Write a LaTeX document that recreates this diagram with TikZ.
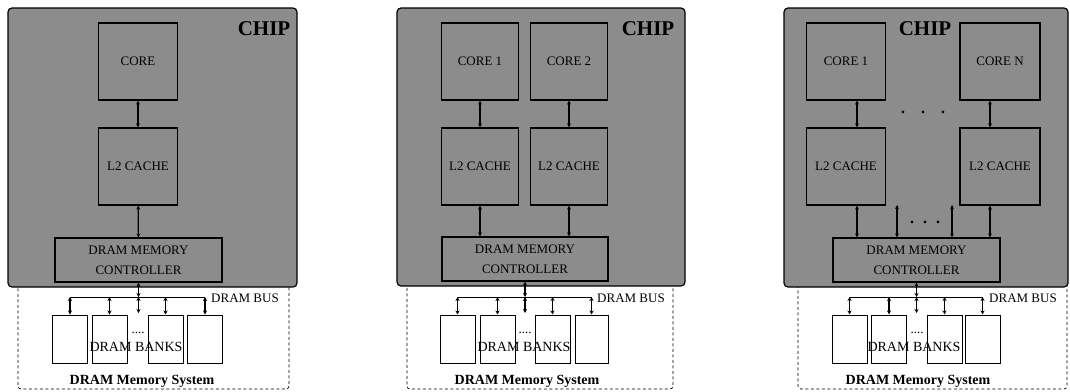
\documentclass[tikz,border=0pt]{standalone}
\usepackage{fontspec}
\setmainfont{Liberation Serif}
\usetikzlibrary{arrows.meta, calc}
\tikzset{
    chipbox/.style={rectangle, rounded corners=4pt, draw=black, line width=1.2pt, fill=black!45, inner sep=0pt},
    chiptag/.style={font=\fontsize{21}{21}\selectfont\bfseries, inner sep=0pt},
    unit/.style={rectangle, draw=black, line width=1.2pt, fill=black!45, minimum width=79pt, minimum height=77pt, inner sep=0pt, text centered, font=\fontsize{13}{20}\selectfont},
    ctrl/.style={unit, minimum width=167pt, minimum height=44pt, align=center},
    bank/.style={rectangle, draw=black, line width=1pt, fill=white, minimum width=35pt, minimum height=48pt, inner sep=0pt},
    memsys/.style={rectangle, rounded corners=3pt, draw=black, dashed, dash pattern=on 3pt off 2.5pt, line width=0.7pt, minimum height=120pt, inner sep=0pt},
    tag/.style={font=\fontsize{13}{13}\selectfont, inner sep=0pt},
    dottag/.style={font=\fontsize{16}{16}\selectfont\bfseries, inner sep=0pt},
    systag/.style={font=\fontsize{14}{14}\selectfont\bfseries, inner sep=0pt},
    link/.style={{Stealth[length=4pt,width=4pt]}-{Stealth[length=4pt,width=4pt]}, line width=1.2pt},
    bus/.style={line width=1pt},
}

\begin{document}
\begin{tikzpicture}[x=1pt, y=-1pt]
    \useasboundingbox (0,0) rectangle (1070,391);

    % Panel 1: single core
    \node[memsys, minimum width=271pt] (sys1) at (153.5,329) {};
    \node[chipbox, minimum width=289pt, minimum height=279pt] (chip1) at (152.5,147.5) {};
    \node[chiptag] (chiptag1) at (264,29) {CHIP};
    \node[unit] (core1) at (138,61.5) {CORE};
    \node[unit] (cache1) at (138,166.5) {L2 CACHE};
    \node[ctrl] (mc1) at (138.5,260) {DRAM MEMORY\\CONTROLLER};
    \coordinate (bus1) at (mc1.south |- 0,297);
    \node[bank] (bank1a) at (70,339) {};
    \node[bank] (bank1b) at (109.5,339) {};
    \node[bank] (bank1c) at (165.5,339) {};
    \node[bank] (bank1d) at (205,339) {};
    \coordinate (gap1) at ($(bus1)+(0,16)$);
    \node[tag] (buslbl1) at (245,298) {DRAM BUS};
    \node[tag] (dots1) at (138,333) {....};
    \node[tag, font=\fontsize{14}{14}\selectfont] (banklbl1) at (136,347) {DRAM BANKS};
    \node[systag] (syslbl1) at (142,381) {DRAM Memory System};

    \draw[link] (core1) -- (cache1);
    \draw[link] (cache1) -- (mc1);
    \draw[link] (mc1.south) -- (bus1);
    \draw[bus] (bank1a.north |- bus1) -- (bank1d.north |- bus1);
    \draw[link] (bank1a.north |- bus1) -- (bank1a.north);
    \draw[link] (bank1b.north |- bus1) -- (bank1b.north);
    \draw[link] (bus1) -- (gap1);
    \draw[link] (bank1c.north |- bus1) -- (bank1c.north);
    \draw[link] (bank1d.north |- bus1) -- (bank1d.north);

    % Panel 2: two cores
    \node[memsys, minimum width=266pt] (sys2) at (540,329) {};
    \node[chipbox, minimum width=288pt, minimum height=278pt] (chip2) at (541,147) {};
    \node[chiptag] (chiptag2) at (648,29) {CHIP};
    \node[unit, minimum width=77pt] (core2a) at (480,61.5) {CORE 1};
    \node[unit, minimum width=77pt] (core2b) at (569,61.5) {CORE 2};
    \node[unit, minimum width=77pt] (cache2a) at (480,166.5) {L2 CACHE};
    \node[unit, minimum width=77pt] (cache2b) at (569,166.5) {L2 CACHE};
    \node[ctrl, minimum width=166pt] (mc2) at (525,259) {DRAM MEMORY\\CONTROLLER};
    \coordinate (bus2) at (mc2.south |- 0,297);
    \node[bank] (bank2a) at (457.5,339) {};
    \node[bank] (bank2b) at (497.5,339) {};
    \node[bank] (bank2c) at (552.5,339) {};
    \node[bank, minimum width=33pt] (bank2d) at (591.5,339) {};
    \coordinate (gap2) at ($(bus2)+(0,16)$);
    \node[tag] (buslbl2) at (631,298) {DRAM BUS};
    \node[tag] (dots2) at (525,333) {....};
    \node[tag, font=\fontsize{14}{14}\selectfont] (banklbl2) at (524,347) {DRAM BANKS};
    \node[systag] (syslbl2) at (527,381) {DRAM Memory System};

    \draw[link] (core2a) -- (cache2a);
    \draw[link] (core2b) -- (cache2b);
    \draw[link] (cache2a) -- (cache2a |- mc2.north);
    \draw[link] (cache2b) -- (cache2b |- mc2.north);
    \draw[link] (mc2.south) -- (bus2);
    \draw[bus] (bank2a.north |- bus2) -- (bank2d.north |- bus2);
    \draw[link] (bank2a.north |- bus2) -- (bank2a.north);
    \draw[link] (bank2b.north |- bus2) -- (bank2b.north);
    \draw[link] (bus2) -- (gap2);
    \draw[link] (bank2c.north |- bus2) -- (bank2c.north);
    \draw[link] (bank2d.north |- bus2) -- (bank2d.north);

    % Panel 3: N cores
    \node[memsys, minimum width=269pt] (sys3) at (932.5,329) {};
    \node[chipbox, minimum width=284pt, minimum height=279pt] (chip3) at (926,147.5) {};
    \node[chiptag] (chiptag3) at (925,29) {CHIP};
    \node[unit] (core3a) at (846,61.5) {CORE 1};
    \node[unit, minimum width=80pt] (core3n) at (1000,61.5) {CORE N};
    \node[unit] (cache3a) at (846,166.5) {L2 CACHE};
    \node[unit, minimum width=80pt] (cache3n) at (1000,166.5) {L2 CACHE};
    \node[dottag] (dots3top) at (923,112) {.\hspace{16pt}.\hspace{16pt}.};
    \node[dottag] (dots3mid) at (925,222) {.\hspace{9pt}.\hspace{9pt}.};
    \node[ctrl] (mc3) at (916.5,260) {DRAM MEMORY\\CONTROLLER};
    \coordinate (in3a) at (857,0);
    \coordinate (in3b) at (897,205);
    \coordinate (in3c) at (952,205);
    \coordinate (in3n) at (990,0);
    \coordinate (bus3) at (mc3.south |- 0,297);
    \node[bank] (bank3a) at (849.5,339) {};
    \node[bank] (bank3b) at (889,339) {};
    \node[bank] (bank3c) at (944.5,339) {};
    \node[bank] (bank3d) at (982.5,339) {};
    \coordinate (gap3) at ($(bus3)+(0,16)$);
    \node[tag] (buslbl3) at (1023,298) {DRAM BUS};
    \node[tag] (dots3) at (917,333) {....};
    \node[tag, font=\fontsize{14}{14}\selectfont] (banklbl3) at (914,347) {DRAM BANKS};
    \node[systag] (syslbl3) at (918,381) {DRAM Memory System};

    \draw[link] (in3a |- core3a.south) -- (in3a |- cache3a.north);
    \draw[link] (in3n |- core3n.south) -- (in3n |- cache3n.north);
    \draw[link] (in3a |- cache3a.south) -- (in3a |- mc3.north);
    \draw[link] (in3b) -- (in3b |- mc3.north);
    \draw[link] (in3c) -- (in3c |- mc3.north);
    \draw[link] (in3n |- cache3n.south) -- (in3n |- mc3.north);
    \draw[link] (mc3.south) -- (bus3);
    \draw[bus] (bank3a.north |- bus3) -- (bank3d.north |- bus3);
    \draw[link] (bank3a.north |- bus3) -- (bank3a.north);
    \draw[link] (bank3b.north |- bus3) -- (bank3b.north);
    \draw[link] (bus3) -- (gap3);
    \draw[link] (bank3c.north |- bus3) -- (bank3c.north);
    \draw[link] (bank3d.north |- bus3) -- (bank3d.north);
\end{tikzpicture}
\end{document}
